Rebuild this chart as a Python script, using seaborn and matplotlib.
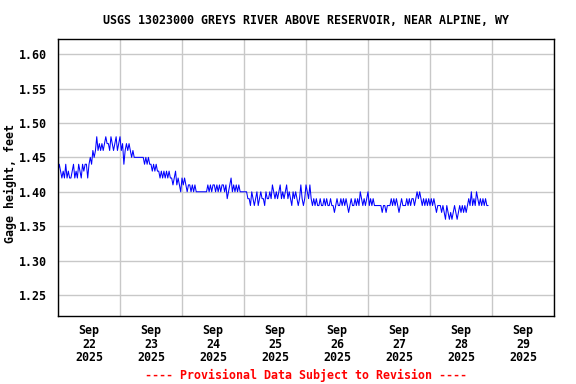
import matplotlib
matplotlib.use("Agg")
import matplotlib.pyplot as plt
import matplotlib.dates as mdates
import pandas as pd
import seaborn as sns

# gage height in hundredths of a foot above 1 ft, 30-minute readings, one row per day
day22 = [43, 44, 43, 42, 43, 42, 44, 42, 43, 42, 42, 43, 44, 42, 43, 42, 44, 43, 42, 44, 43, 44, 44, 42,
         44, 45, 44, 46, 45, 46, 48, 46, 47, 46, 47, 46, 47, 48, 47, 47, 46, 48, 47, 46, 47, 48, 46, 47]
day23 = [48, 46, 47, 44, 46, 47, 46, 47, 46, 45, 46, 45, 45, 45, 45, 45, 45, 45, 45, 44, 45, 44, 45, 44,
         44, 43, 44, 43, 44, 43, 43, 42, 43, 42, 43, 42, 43, 42, 43, 42, 42, 41, 42, 43, 41, 42, 41, 40]
day24 = [42, 41, 42, 41, 40, 41, 41, 40, 41, 40, 41, 40, 40, 40, 40, 40, 40, 40, 40, 40, 41, 40, 41, 40,
         41, 41, 40, 41, 40, 41, 40, 41, 41, 40, 41, 39, 40, 41, 42, 40, 41, 40, 41, 40, 41, 40, 40, 40]
day25 = [40, 40, 40, 39, 39, 38, 40, 39, 38, 39, 40, 38, 39, 40, 39, 39, 38, 40, 39, 39, 40, 39, 41, 40,
         39, 40, 39, 40, 41, 39, 40, 39, 40, 41, 39, 40, 39, 38, 40, 39, 40, 39, 38, 39, 41, 39, 38, 39]
day26 = [41, 40, 39, 41, 39, 38, 39, 38, 39, 38, 38, 39, 38, 38, 39, 38, 39, 38, 38, 39, 38, 38, 37, 38,
         39, 38, 38, 39, 38, 39, 38, 39, 38, 37, 38, 39, 38, 38, 39, 38, 39, 38, 40, 39, 38, 39, 38, 39]
day27 = [40, 38, 39, 38, 39, 38, 38, 38, 38, 38, 38, 37, 38, 38, 37, 38, 38, 38, 39, 38, 39, 38, 39, 38,
         37, 38, 39, 38, 38, 38, 39, 38, 39, 38, 39, 39, 38, 39, 40, 39, 40, 39, 38, 39, 38, 39, 38, 39]
day28 = [38, 39, 38, 39, 38, 37, 38, 38, 38, 37, 38, 37, 36, 38, 37, 36, 37, 36, 37, 38, 37, 36, 37, 38,
         37, 38, 37, 38, 37, 38, 39, 38, 40, 38, 39, 38, 40, 39, 38, 39, 38, 39, 38, 39, 38, 38]

readings = day22 + day23 + day24 + day25 + day26 + day27 + day28
times = pd.date_range("2025-09-22 00:00", periods=len(readings), freq="30min")
df = pd.DataFrame({"time": times, "gage": [1 + r / 100 for r in readings]})

day_labels = ["Sep\n22\n2025", "Sep\n23\n2025", "Sep\n24\n2025", "Sep\n25\n2025",
              "Sep\n26\n2025", "Sep\n27\n2025", "Sep\n28\n2025", "Sep\n29\n2025"]
y_ticks = [1.25, 1.30, 1.35, 1.40, 1.45, 1.50, 1.55, 1.60]

sns.set_style("white")
plt.rcParams['font.family'] = ['DejaVu Sans Mono']
plt.rcParams['font.weight'] = 'bold'
plt.rcParams['text.color'] = 'black'
plt.rcParams['xtick.color'] = 'black'
plt.rcParams['ytick.color'] = 'black'
plt.rcParams['axes.labelcolor'] = 'black'
fs = 8.4

fig = plt.figure(figsize=(5.76, 3.84), dpi=100)
ax = fig.add_axes([58 / 576, 68 / 384, 496 / 576, 277 / 384])

sns.lineplot(data=df, x="time", y="gage", color="#0000ff", linewidth=0.75, ax=ax)

start = pd.Timestamp("2025-09-22")
end = pd.Timestamp("2025-09-30")
ax.set_xlim(start, end)
ax.set_ylim(1.2195, 1.622)

midnights = pd.date_range(start, end, freq="D")
noons = pd.date_range("2025-09-22 12:00", periods=8, freq="D")
ax.set_xticks(mdates.date2num(midnights))
ax.set_xticklabels([])
ax.set_xticks(mdates.date2num(noons), minor=True)
ax.set_xticklabels(day_labels, minor=True, fontsize=fs, fontweight="bold", linespacing=1.05)
ax.tick_params(axis="x", which="both", length=0, pad=6)

ax.set_yticks(y_ticks)
ax.set_yticklabels([f"{v:.2f}" for v in y_ticks], fontsize=fs, fontweight="bold")
ax.tick_params(axis="y", length=0, pad=8)

ax.grid(True, which="major", color="#c8c8c8", linewidth=1)
for s in ax.spines.values():
    s.set_color("black")
    s.set_linewidth(1)

ax.set_xlabel("")
ax.set_ylabel("Gage height, feet", fontsize=fs, fontweight="bold")
ax.yaxis.set_label_coords(-0.082, 0.478)

fig.text(306 / 576, 1 - 20 / 384, "USGS 13023000 GREYS RIVER ABOVE RESERVOIR, NEAR ALPINE, WY",
         ha="center", va="center", fontsize=fs, fontweight="bold")
fig.text(306 / 576, 1 - 375 / 384, "---- Provisional Data Subject to Revision ----",
         ha="center", va="center", fontsize=fs, fontweight="bold", color="red")

fig.savefig("out.png", dpi=100)
